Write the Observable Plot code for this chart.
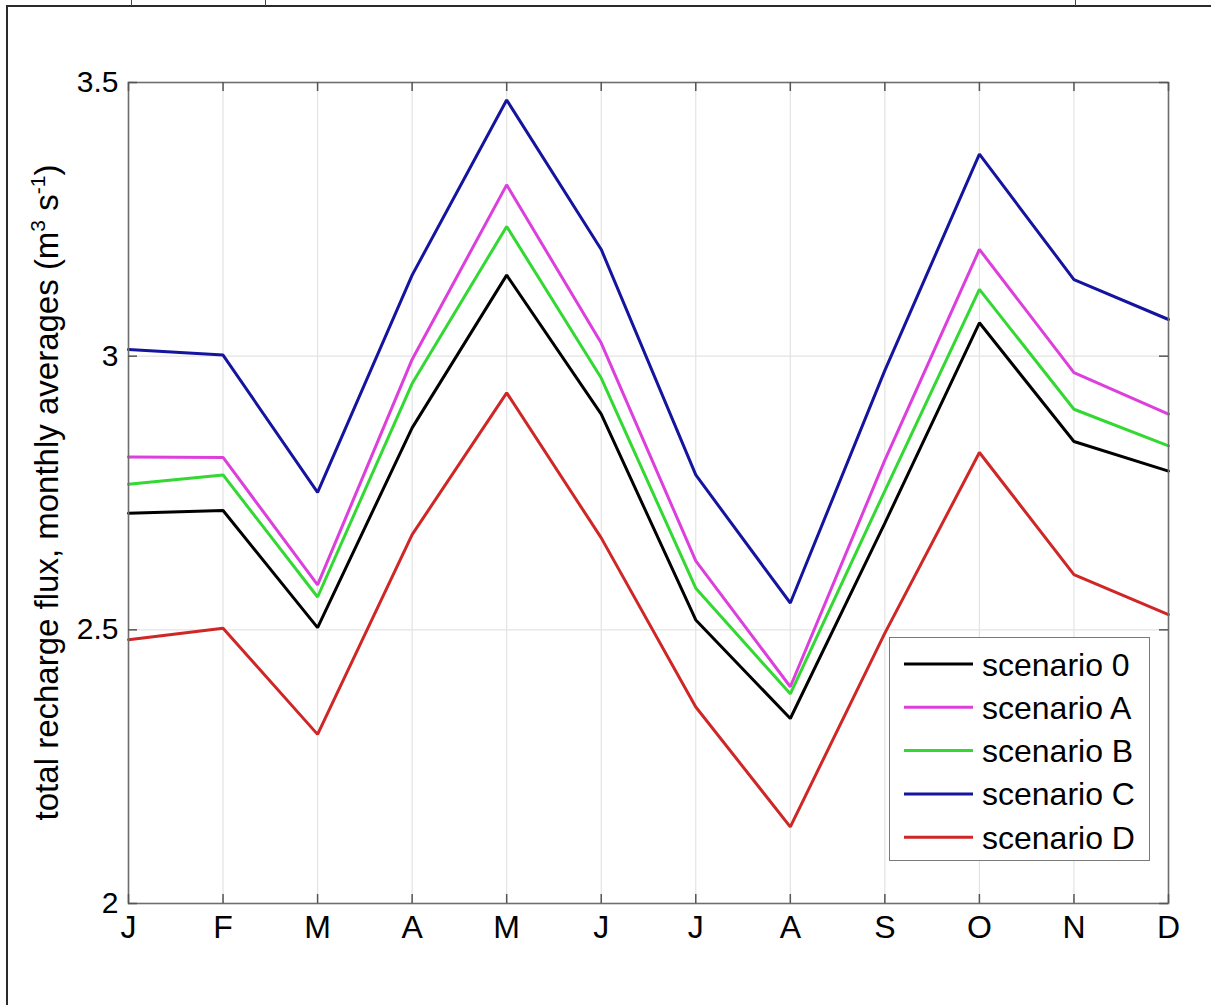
<!DOCTYPE html>
<html>
<head>
<meta charset="utf-8">
<script src="https://cdn.jsdelivr.net/npm/d3@7"></script>
<script src="https://cdn.jsdelivr.net/npm/@observablehq/plot@0.6"></script>
<style>
  body { margin: 0; background: #fff; }
  #fig { position: relative; width: 1211px; height: 1005px; overflow: hidden; background: #fff;
         font-family: "Liberation Sans", Arial, Helvetica, sans-serif; }
  #fig svg { position: absolute; left: 0; top: 0; }
  #border { position: absolute; left: 6px; top: 5px; width: 1300px; height: 1100px;
            border-top: 2px solid #2a2a2a; border-left: 2px solid #2a2a2a; }
  .notch { position: absolute; top: 0; width: 1px; height: 6px; background: #444; }
  #legend { position: absolute; left: 889px; top: 637px; width: 261px; height: 224px;
            box-sizing: border-box; border: 1.5px solid #7a7a7a; background: #fff; }
</style>
</head>
<body>
<div id="fig">
  <div id="border"></div>
  <div class="notch" style="left:131px"></div>
  <div class="notch" style="left:265px"></div>
  <div class="notch" style="left:1075px"></div>
</div>
<script>
// Month ticks (1 = January ... 12 = December) and their single-letter labels
const monthIndex = [1, 2, 3, 4, 5, 6, 7, 8, 9, 10, 11, 12];
const monthLabels = ["J", "F", "M", "A", "M", "J", "J", "A", "S", "O", "N", "D"];
const yTicks = [2, 2.5, 3, 3.5];

// Scenarios and their line colours
const seriesNames = ["scenario 0", "scenario A", "scenario B", "scenario C", "scenario D"];
const seriesColors = ["#000000", "#dc3fdc", "#33d833", "#14149e", "#cf2626"];

// Total recharge flux, monthly averages (m3/s)
const scenario0 = [2.713, 2.718, 2.504, 2.869, 3.148, 2.894, 2.518, 2.338, 2.695, 3.061, 2.844, 2.790];
const scenarioA = [2.816, 2.815, 2.582, 2.994, 3.313, 3.024, 2.626, 2.396, 2.810, 3.195, 2.970, 2.894];
const scenarioB = [2.766, 2.783, 2.560, 2.950, 3.237, 2.960, 2.576, 2.383, 2.754, 3.122, 2.903, 2.836];
const scenarioC = [3.012, 3.002, 2.751, 3.148, 3.468, 3.195, 2.783, 2.549, 2.974, 3.369, 3.140, 3.067];
const scenarioD = [2.482, 2.503, 2.309, 2.674, 2.933, 2.668, 2.359, 2.140, 2.494, 2.824, 2.601, 2.528];

const seriesValues = [scenario0, scenarioA, scenarioB, scenarioC, scenarioD];
const rows = seriesNames.flatMap((name, i) =>
  seriesValues[i].map((v, j) => ({series: name, month: monthIndex[j], value: v}))
);

const W = 1211, H = 1005;
const mL = 128, mR = 43, mT = 82, mB = 102;
const plotW = W - mL - mR, plotH = H - mT - mB;
const tickLen = 9;
const fontFamily = '"Liberation Sans", Arial, Helvetica, sans-serif';

const chart = Plot.plot({
  width: W,
  height: H,
  marginLeft: mL,
  marginRight: mR,
  marginTop: mT,
  marginBottom: mB,
  style: {fontFamily, fontSize: "30px", color: "#000", background: "transparent"},
  x: {domain: [1, 12]},
  y: {domain: [2, 3.5]},
  color: {domain: seriesNames, range: seriesColors},
  marks: [
    // light grid
    Plot.ruleX(monthIndex, {stroke: "#e3e3e3", strokeWidth: 1.2}),
    Plot.ruleY([2.5, 3], {stroke: "#e3e3e3", strokeWidth: 1.2}),
    // scenario lines
    Plot.line(rows, {x: "month", y: "value", z: "series", stroke: "series",
                     strokeWidth: 3, strokeLinejoin: "miter"}),
    // axes box
    Plot.frame({stroke: "#6e6e6e", strokeWidth: 1.6}),
    // inward tick marks on all four sides
    Plot.ruleX(monthIndex, {insetTop: plotH - tickLen, stroke: "#555", strokeWidth: 1.5}),
    Plot.ruleX(monthIndex, {insetBottom: plotH - tickLen, stroke: "#555", strokeWidth: 1.5}),
    Plot.ruleY(yTicks, {insetRight: plotW - tickLen, stroke: "#555", strokeWidth: 1.5}),
    Plot.ruleY(yTicks, {insetLeft: plotW - tickLen, stroke: "#555", strokeWidth: 1.5}),
    // tick labels
    Plot.axisX(monthIndex, {tickSize: 0, tickPadding: 12, fontSize: 32,
                            tickFormat: (d) => monthLabels[d - 1], label: null}),
    Plot.axisY(yTicks, {tickSize: 0, tickPadding: 10, fontSize: 30,
                        tickFormat: (d) => String(d), label: null})
  ]
});

document.getElementById("fig").appendChild(chart);

// y-axis title with superscript units
const ylab = d3.select(chart).append("text")
  .attr("transform", `translate(58,${mT + plotH / 2}) rotate(-90)`)
  .attr("text-anchor", "middle")
  .attr("font-family", fontFamily)
  .attr("font-size", 33)
  .attr("fill", "#000");
ylab.append("tspan").text("total recharge flux, monthly averages (m");
ylab.append("tspan").attr("dy", -13).attr("font-size", 21).text("3");
ylab.append("tspan").attr("dy", 13).text(" s");
ylab.append("tspan").attr("dy", -13).attr("font-size", 21).text("-1");
ylab.append("tspan").attr("dy", 13).text(")");

// legend box
const legend = d3.select("#fig").append("div").attr("id", "legend");
const lsvg = legend.append("svg").attr("width", 258).attr("height", 221)
  .style("position", "absolute").style("left", "0px").style("top", "0px");
const rowY = (i) => 26 + i * 43.3;
seriesNames.forEach((name, i) => {
  lsvg.append("line")
    .attr("x1", 14).attr("x2", 83)
    .attr("y1", rowY(i)).attr("y2", rowY(i))
    .attr("stroke", seriesColors[i]).attr("stroke-width", 3);
  lsvg.append("text")
    .attr("x", 92).attr("y", rowY(i)).attr("dy", "0.36em")
    .attr("font-family", fontFamily).attr("font-size", 32).attr("fill", "#000")
    .text(name);
});
</script>
</body>
</html>
